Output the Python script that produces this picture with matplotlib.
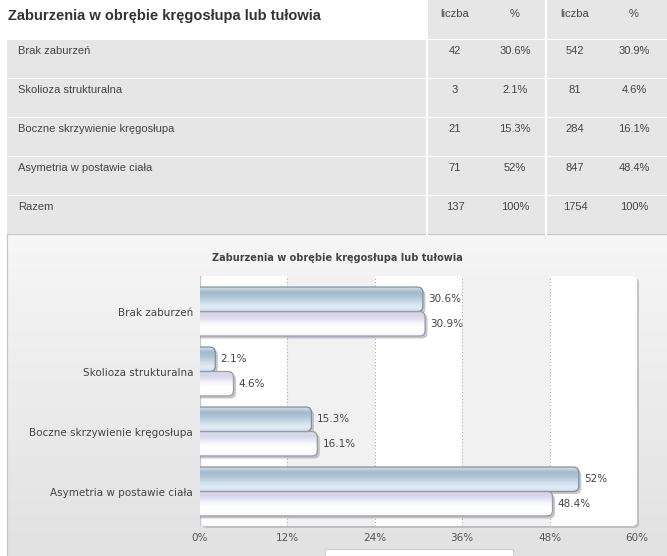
import numpy as np
import matplotlib
matplotlib.use("Agg")
import matplotlib.pyplot as plt
from matplotlib.patches import FancyBboxPatch, Rectangle

# dane z tabeli
kategorie = ["Brak zaburzeń", "Skolioza strukturalna",
             "Boczne skrzywienie kręgosłupa", "Asymetria w postawie ciała"]
liczba_1 = [42, 3, 21, 71]
proc_1 = [30.6, 2.1, 15.3, 52]
liczba_2 = [542, 81, 284, 847]
proc_2 = [30.9, 4.6, 16.1, 48.4]
razem_1, razem_2 = 137, 1754
tytul = "Zaburzenia w obrębie kręgosłupa lub tułowia"
xticks = [0, 12, 24, 36, 48, 60]

W, H = 667, 556
fig = plt.figure(figsize=(W / 100, H / 100), dpi=100)
fig.patch.set_facecolor("white")


def fx(px):
    return px / W


def fy(py):
    return 1 - py / H


def fmt(v):
    return ("%g" % v) + "%"


# ---- tabela ----
fig.text(fx(8), fy(16), tytul, fontsize=10.5, fontweight="bold", color="#333333",
         family="Liberation Sans", va="center", ha="left")
cell = "#e6e6e6"
fig.patches.append(Rectangle((fx(427), fy(39)), fx(240), 39 / H, transform=fig.transFigure,
                             facecolor=cell, edgecolor="none", zorder=-3))
for x, t in zip([455, 515, 575, 634], ["liczba", "%", "liczba", "%"]):
    fig.text(fx(x), fy(14), t, fontsize=8, color="#444444", family="Liberation Sans",
             ha="center", va="center")

wiersze = [(k, a, fmt(b), c, fmt(d)) for k, a, b, c, d in zip(kategorie, liczba_1, proc_1, liczba_2, proc_2)]
wiersze.append(("Razem", razem_1, "100%", razem_2, "100%"))
for i, w in enumerate(wiersze):
    top = 40 + i * 39
    fig.patches.append(Rectangle((fx(7), fy(top + 38)), fx(660), 38 / H, transform=fig.transFigure,
                                 facecolor=cell, edgecolor="none", zorder=-3))
    fig.text(fx(18), fy(top + 11), w[0], fontsize=8, color="#444444", family="Liberation Sans",
             ha="left", va="center")
    for x, t in zip([455, 515, 575, 634], w[1:]):
        fig.text(fx(x), fy(top + 11), str(t), fontsize=8, color="#444444", family="Liberation Sans",
                 ha="center", va="center")
for x in [427, 546]:
    fig.add_artist(plt.Line2D([fx(x), fx(x)], [fy(0), fy(234)], color="white", lw=1.5, zorder=-2))

# ---- ramka wykresu z gradientem ----
bg = fig.add_axes([fx(7), 0, fx(660), 322 / H])
bg.set_zorder(-5)
grad = np.linspace(0.965, 0.885, 100).reshape(-1, 1)
bg.imshow(np.dstack([grad, grad, grad]), aspect="auto", extent=[0, 1, 0, 1])
bg.set_xlim(0, 1)
bg.set_ylim(0, 1)
bg.set_xticks([])
bg.set_yticks([])
for s in bg.spines.values():
    s.set_color("#c4c4c4")
bg.spines["right"].set_visible(False)
bg.spines["bottom"].set_visible(False)

fig.text(fx(337), fy(258), tytul, fontsize=7, fontweight="bold", color="#444444",
         ha="center", va="center")

# cien i biale tlo obszaru wykresu
fig.patches.append(FancyBboxPatch((fx(202), fy(528)), fx(437), 250 / H,
                                  boxstyle="round,pad=0,rounding_size=0.008",
                                  transform=fig.transFigure, facecolor="#a8a8a8",
                                  edgecolor="none", alpha=0.6, zorder=-1))
fig.patches.append(FancyBboxPatch((fx(200), fy(526)), fx(437), 250 / H,
                                  boxstyle="round,pad=0,rounding_size=0.008",
                                  transform=fig.transFigure, facecolor="white",
                                  edgecolor="none", zorder=-1))

# legenda (ucieta)
fig.patches.append(Rectangle((fx(325), 0), fx(188), 7 / H, transform=fig.transFigure,
                             facecolor="white", edgecolor="#d0d0d0", lw=0.8, zorder=3))

ax = fig.add_axes([fx(200), 30 / H, fx(437), 250 / H])
ax.set_zorder(2)
ax.set_facecolor("none")
ax.set_xlim(0, 60)
ax.set_ylim(3.575, -0.592)

for a, b in [(12, 24), (36, 48)]:
    ax.axvspan(a, b, ymin=0, ymax=1, facecolor="#f1f1f1", edgecolor="none", zorder=0)
for x in xticks[1:-1]:
    ax.axvline(x, color="#b0b0b0", lw=0.8, ls=(0, (1, 2)), zorder=1)
ax.axvline(0, color="#c8c8c8", lw=1, zorder=1)

px_x = 437 / 60.0
px_y = 60.0
asp = px_x / px_y
bh = 0.408

# gradienty slupkow (od gory do dolu)
g1 = np.array([[0.84, 0.89, 0.93], [0.64, 0.72, 0.79], [0.70, 0.78, 0.84],
               [0.80, 0.86, 0.91], [0.88, 0.93, 0.97], [0.82, 0.88, 0.93]])
g2 = np.array([[0.86, 0.86, 0.92], [0.84, 0.84, 0.91], [0.93, 0.93, 0.97],
               [1.0, 1.0, 1.0], [1.0, 1.0, 1.0], [0.97, 0.97, 0.99]])


def gradient_bar(y0, width, cols, edge):
    r = 5.5 / px_x
    sh = FancyBboxPatch((-r, y0 + 2.5 / px_y), width + r + 2.5 / px_x, bh,
                        boxstyle="round,pad=0,rounding_size=%f" % r,
                        mutation_aspect=asp, facecolor="#9a9a9a", edgecolor="none",
                        alpha=0.55, zorder=2, clip_on=True)
    ax.add_patch(sh)
    p = FancyBboxPatch((-r, y0), width + r, bh,
                       boxstyle="round,pad=0,rounding_size=%f" % r,
                       mutation_aspect=asp, facecolor="none", edgecolor=edge,
                       lw=0.9, zorder=4)
    ax.add_patch(p)
    t = np.linspace(0, 1, 60)
    k = np.linspace(0, 1, len(cols))
    img = np.stack([np.interp(t, k, cols[:, c]) for c in range(3)], axis=-1).reshape(-1, 1, 3)
    im = ax.imshow(img, aspect="auto", extent=[0, width, y0 + bh, y0],
                   interpolation="bilinear", zorder=3)
    im.set_clip_path(p)


for i in range(len(kategorie)):
    gradient_bar(i - bh, proc_1[i], g1, "#7f8f9f")
    gradient_bar(i, proc_2[i], g2, "#9a9aaa")
    ax.text(proc_1[i] + 0.7, i - bh / 2, fmt(proc_1[i]), fontsize=7.5, color="#444444",
            va="center", ha="left", zorder=5)
    ax.text(proc_2[i] + 0.7, i + bh / 2, fmt(proc_2[i]), fontsize=7.5, color="#444444",
            va="center", ha="left", zorder=5)

ax.set_xlim(0, 60)
ax.set_ylim(3.575, -0.592)
ax.set_xticks(xticks)
ax.set_xticklabels(["%d%%" % x for x in xticks], fontsize=7.5, color="#555555")
ax.set_yticks(range(len(kategorie)))
ax.set_yticklabels(kategorie, fontsize=7.5, color="#444444")
ax.tick_params(length=0, pad=5)
for s in ax.spines.values():
    s.set_visible(False)

fig.savefig("out.png", dpi=100)
